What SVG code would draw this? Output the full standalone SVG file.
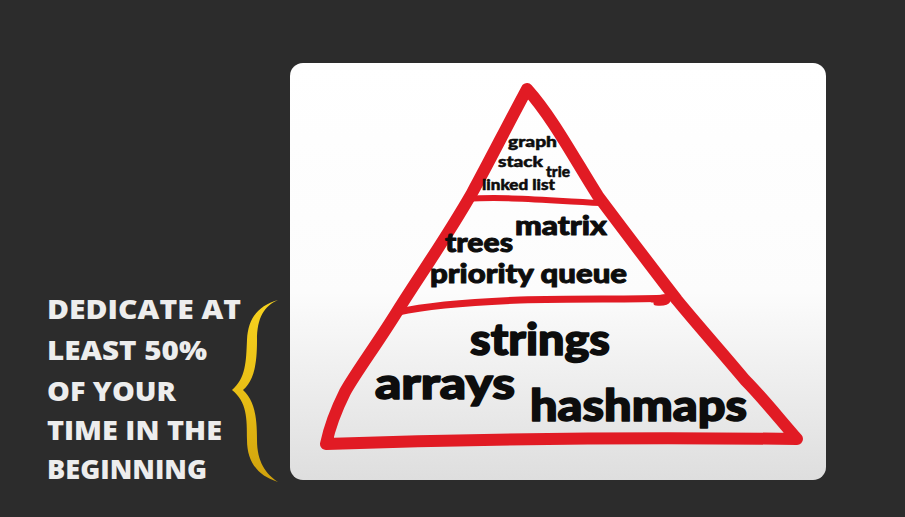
<svg xmlns="http://www.w3.org/2000/svg" width="905" height="517" viewBox="0 0 905 517">
  <defs>
    <linearGradient id="panelGrad" x1="0" y1="0" x2="0" y2="1">
      <stop offset="0" stop-color="#ffffff"/>
      <stop offset="0.55" stop-color="#fcfcfc"/>
      <stop offset="1" stop-color="#dedede"/>
    </linearGradient>
    <linearGradient id="braceGrad" x1="0" y1="0" x2="0" y2="1">
      <stop offset="0" stop-color="#f6d21f"/>
      <stop offset="0.5" stop-color="#e9bf16"/>
      <stop offset="1" stop-color="#cfa10c"/>
    </linearGradient>
    <style>
      .red { fill: none; stroke: #e11b24; stroke-linecap: round; stroke-linejoin: round; }
      .word { font-family: "Lato", "Open Sans", "DejaVu Sans", sans-serif; font-weight: 900; fill: #0d0d0d; stroke: #0d0d0d; stroke-linejoin: round; }
      .s { stroke-width: 0.5px; }
      .m { stroke-width: 1px; }
      .l { stroke-width: 1.6px; }
      .cap { font-family: "Open Sans", "Lato", "DejaVu Sans", sans-serif; font-weight: 800; fill: #ededed; font-size: 26px; }
    </style>
  </defs>

  <rect x="0" y="0" width="905" height="517" fill="#2c2c2c"/>

  <g id="panel">
    <rect x="290" y="63" width="536" height="417" rx="13" ry="13" fill="url(#panelGrad)"/>
  </g>

  <g id="pyramid">
    <path class="red" stroke-width="12" d="M527,89 C505,130 490,160 472,193 C445,240 420,275 400,307 C378,343 356,372 345,392 C335,412 329,430 326,444 Q560,436 797,439 C772,410 760,395 745,380 C720,350 700,328 677,300 C650,265 625,232 598,196 C575,160 553,118 527,89 Z"/>
    <path class="red" stroke-width="6" d="M467,199 C500,196 540,200 601,203"/>
    <path class="red" stroke-width="7" d="M398,312 C430,305 470,302 520,300 C580,298 630,300 668,298"/>
    <path class="red" stroke-width="5" d="M652,300 C660,298 666,295 668,298 C670,302 664,304 656,303"/>
  </g>

  <g id="tier-top">
    <text class="word s" x="508" y="147" font-size="15" textLength="49" lengthAdjust="spacingAndGlyphs">graph</text>
    <text class="word s" x="498" y="167" font-size="15" textLength="45" lengthAdjust="spacingAndGlyphs">stack</text>
    <text class="word s" x="546" y="177" font-size="15" textLength="24" lengthAdjust="spacingAndGlyphs">trie</text>
    <text class="word s" x="482" y="190" font-size="15" textLength="73" lengthAdjust="spacingAndGlyphs">linked list</text>
  </g>

  <g id="tier-middle">
    <text class="word m" x="515" y="235" font-size="27" textLength="92" lengthAdjust="spacingAndGlyphs">matrix</text>
    <text class="word m" x="445" y="252" font-size="27" textLength="68" lengthAdjust="spacingAndGlyphs">trees</text>
    <text class="word m" x="430" y="283" font-size="27" textLength="197" lengthAdjust="spacingAndGlyphs">priority queue</text>
  </g>

  <g id="tier-bottom">
    <text class="word l" x="470" y="355" font-size="44" textLength="140" lengthAdjust="spacingAndGlyphs">strings</text>
    <text class="word l" x="375" y="399" font-size="44" textLength="140" lengthAdjust="spacingAndGlyphs">arrays</text>
    <text class="word l" x="530" y="421" font-size="44" textLength="217" lengthAdjust="spacingAndGlyphs">hashmaps</text>
  </g>

  <g id="caption">
    <text class="cap" x="47" y="319" textLength="194" lengthAdjust="spacingAndGlyphs">DEDICATE AT</text>
    <text class="cap" x="47" y="360" textLength="160" lengthAdjust="spacingAndGlyphs">LEAST 50%</text>
    <text class="cap" x="47" y="401" textLength="129" lengthAdjust="spacingAndGlyphs">OF YOUR</text>
    <text class="cap" x="47" y="440" textLength="175" lengthAdjust="spacingAndGlyphs">TIME IN THE</text>
    <text class="cap" x="47" y="479" textLength="160" lengthAdjust="spacingAndGlyphs">BEGINNING</text>
  </g>

  <g id="brace">
    <path fill="url(#braceGrad)" d="M278,300 C258,306 248,318 247,340 C246,362 246,378 232,390 C247,402 247,418 247,440 C247,462 258,476 278,482 C266,474 257,462 257,440 C257,415 254,400 243,390 C254,380 257,365 257,340 C257,318 264,306 278,300 Z"/>
  </g>
</svg>
